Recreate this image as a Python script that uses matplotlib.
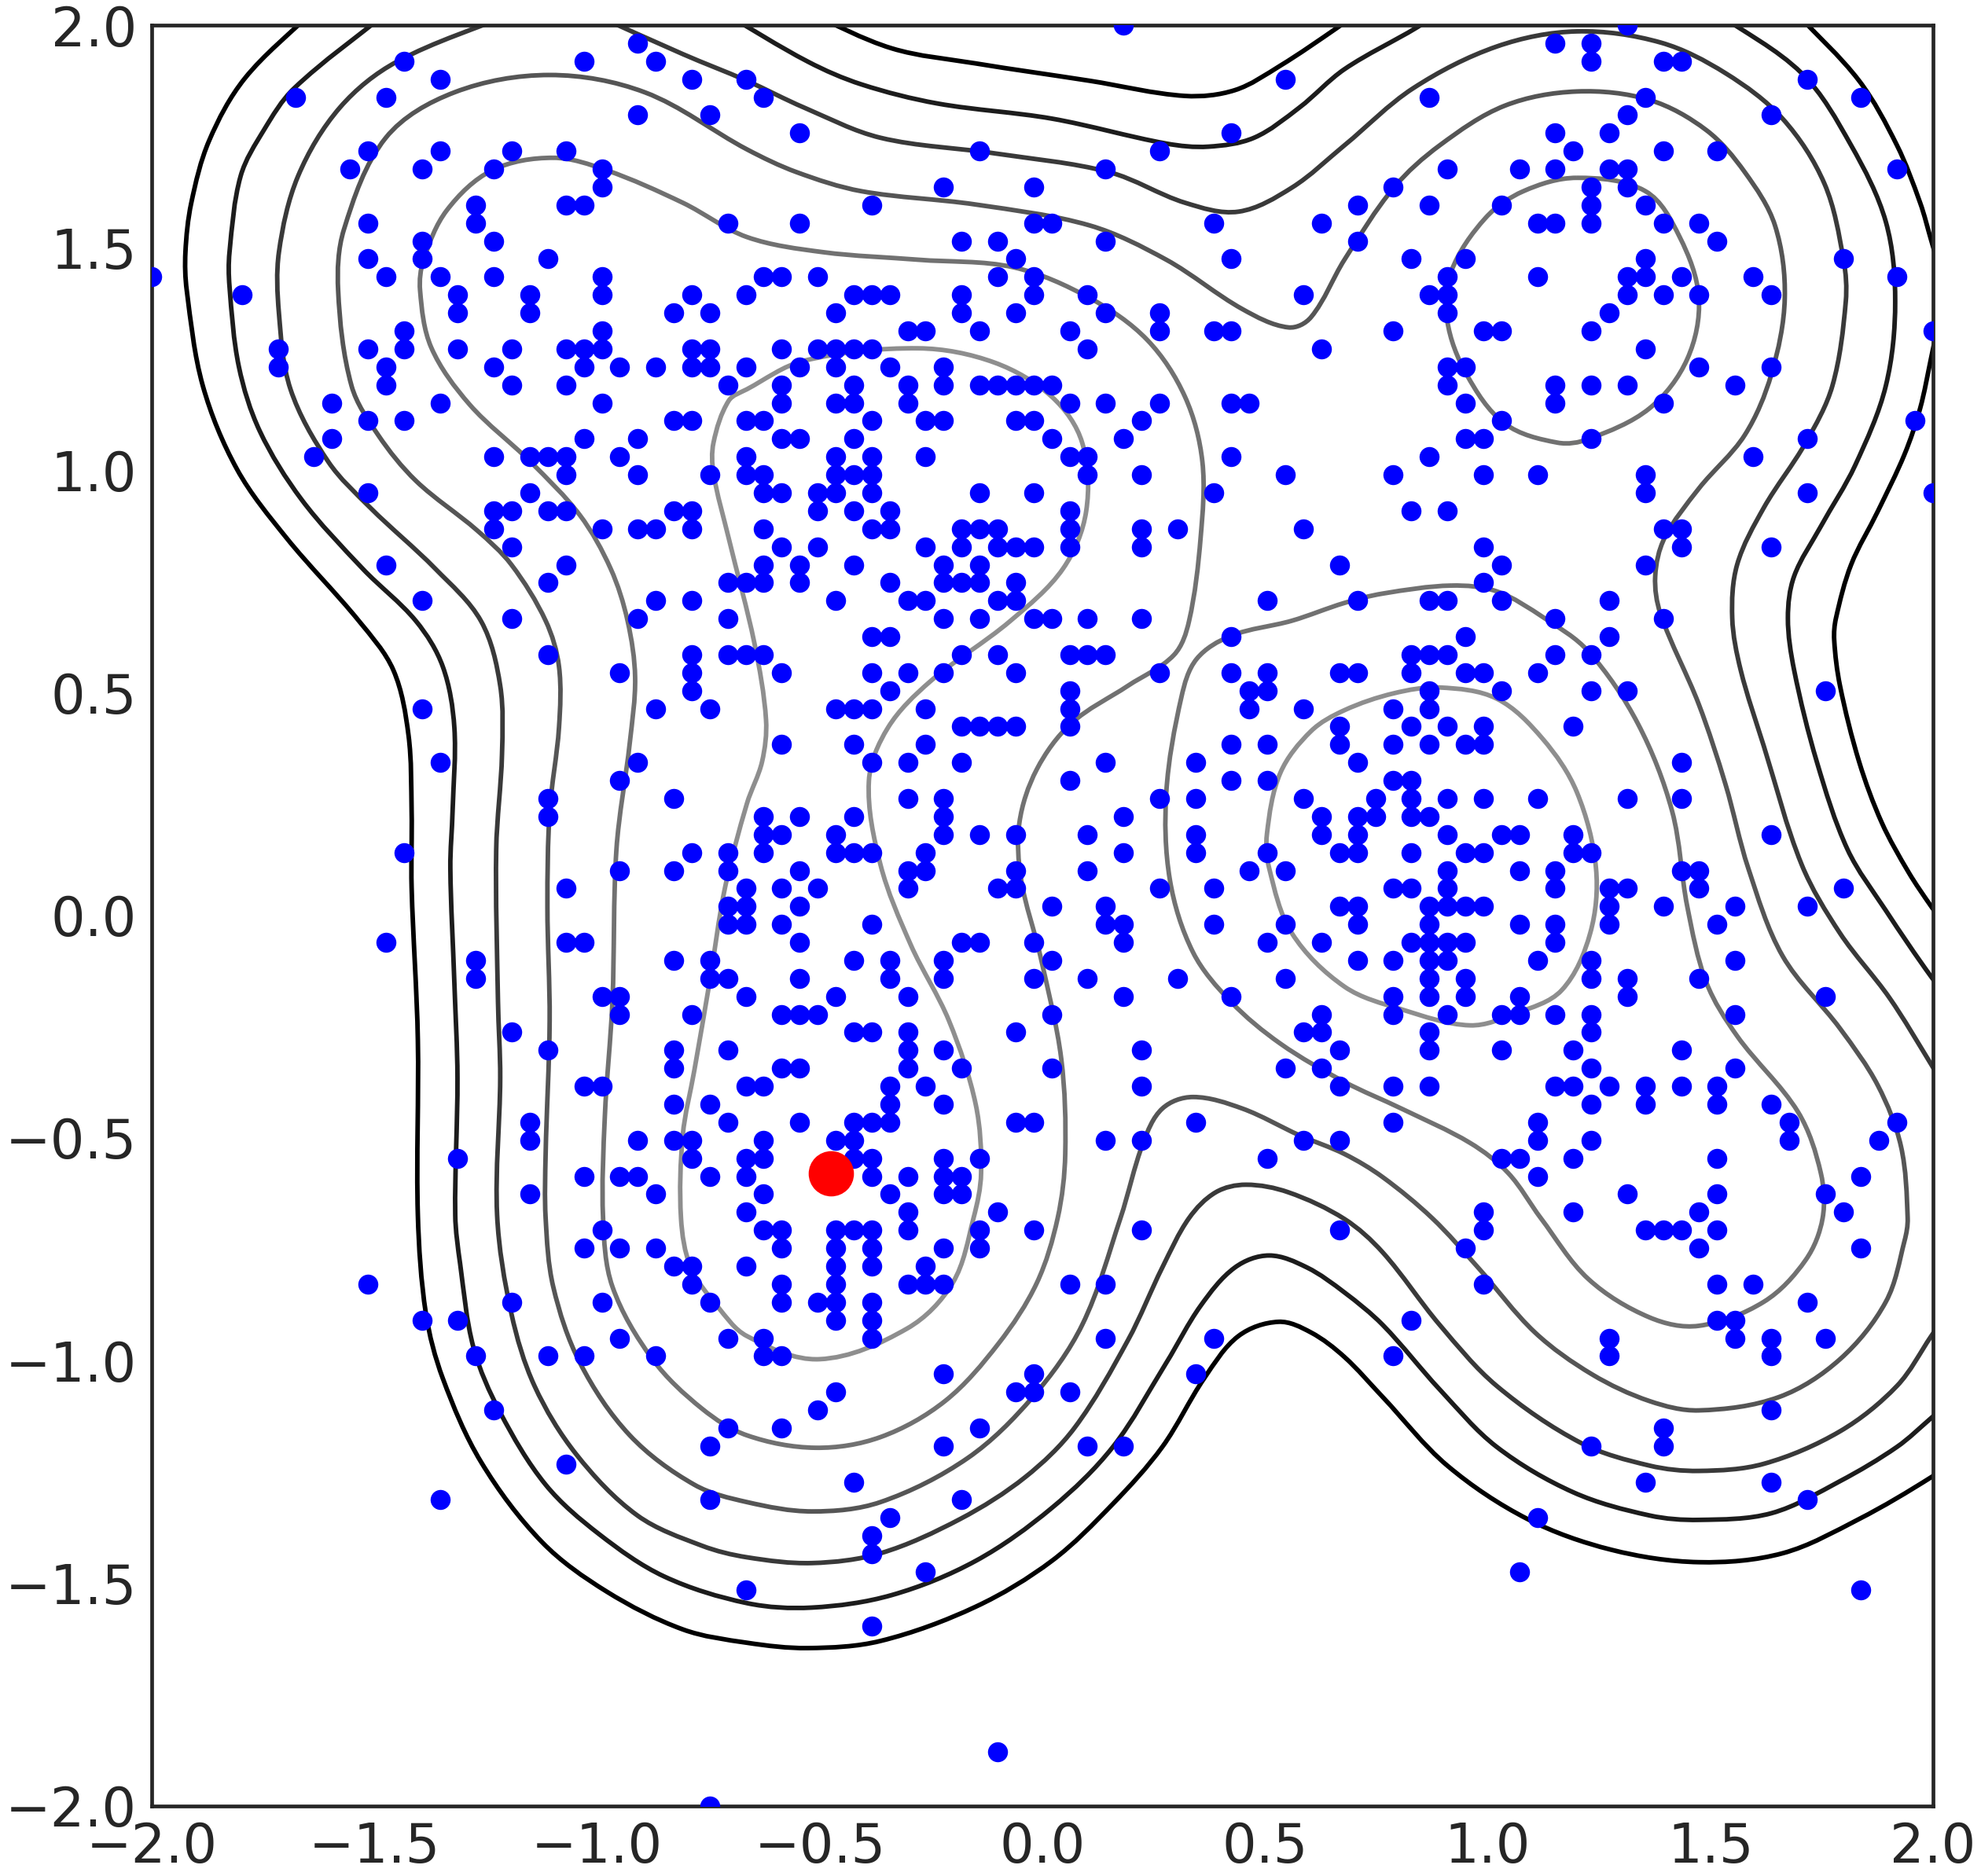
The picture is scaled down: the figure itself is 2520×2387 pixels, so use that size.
import numpy as np
import matplotlib
matplotlib.use("Agg")
import matplotlib.pyplot as plt
from matplotlib.path import Path
from matplotlib.patches import PathPatch

# ==========================================
# DATA
# ==========================================

# the samples sit on a 100 x 100 lattice, so they are stored as lattice cells
lattice = np.linspace(-2, 2, 100)

# row number from the top -> columns holding a blue point
blue_cells = {
    0: [54, 82],
    1: [27, 78, 80],
    2: [14, 24, 28, 80, 84, 85],
    3: [16, 30, 33, 63, 92],
    4: [8, 13, 34, 71, 83, 95],
    5: [27, 31, 82, 90],
    6: [36, 60, 78, 81],
    7: [12, 16, 20, 23, 46, 56, 79, 84, 87],
    8: [11, 15, 19, 25, 53, 72, 76, 78, 81, 82, 97],
    9: [25, 44, 49, 69, 80, 82],
    10: [18, 23, 24, 40, 67, 71, 75, 80, 83],
    11: [12, 18, 32, 36, 49, 50, 59, 65, 77, 78, 80, 84, 86],
    12: [15, 19, 45, 47, 53, 67, 87],
    13: [12, 15, 22, 48, 60, 70, 73, 83, 94],
    14: [0, 13, 16, 19, 25, 34, 35, 37, 47, 49, 72, 77, 82, 83, 85, 89, 97],
    15: [5, 17, 21, 25, 30, 33, 39, 40, 41, 45, 49, 52, 64, 71, 72, 82, 84, 86, 90],
    16: [17, 21, 29, 31, 38, 45, 48, 53, 56, 72, 81],
    17: [14, 25, 42, 43, 46, 51, 56, 59, 60, 69, 74, 75, 80, 99],
    18: [7, 12, 14, 17, 20, 23, 24, 25, 30, 31, 35, 37, 38, 39, 40, 52, 65, 83],
    19: [7, 13, 19, 24, 26, 28, 30, 31, 33, 36, 38, 41, 44, 72, 73, 86, 90],
    20: [13, 20, 23, 32, 35, 39, 42, 44, 46, 47, 48, 49, 50, 72, 78, 80, 82, 88],
    21: [10, 16, 25, 35, 38, 39, 42, 51, 53, 56, 60, 61, 73, 78, 84],
    22: [12, 14, 29, 30, 33, 34, 40, 43, 44, 48, 49, 55, 75, 98],
    23: [10, 24, 27, 35, 36, 39, 50, 54, 73, 74, 80, 92],
    24: [9, 19, 21, 22, 23, 26, 33, 38, 40, 43, 51, 52, 60, 71, 89],
    25: [23, 27, 31, 33, 34, 38, 39, 40, 52, 55, 63, 69, 74, 77, 83],
    26: [12, 21, 34, 35, 37, 38, 40, 46, 49, 59, 83, 92, 99],
    27: [19, 20, 22, 23, 29, 30, 37, 39, 41, 51, 70, 72],
    28: [19, 25, 27, 28, 30, 34, 40, 41, 45, 46, 47, 51, 55, 57, 64, 84, 85],
    29: [20, 35, 37, 43, 45, 47, 48, 49, 51, 55, 74, 85, 90],
    30: [13, 23, 34, 36, 39, 44, 46, 66, 75, 83],
    31: [22, 32, 33, 34, 36, 41, 44, 45, 46, 48, 74],
    32: [15, 28, 30, 38, 42, 43, 47, 48, 62, 67, 71, 72, 75, 81],
    33: [20, 27, 32, 44, 46, 49, 50, 52, 55, 78, 84],
    34: [40, 41, 60, 73, 81],
    35: [22, 30, 32, 33, 34, 45, 47, 51, 52, 53, 70, 71, 72, 78, 80],
    36: [26, 30, 35, 40, 42, 44, 48, 56, 60, 62, 66, 67, 70, 73, 74, 77],
    37: [30, 41, 51, 61, 62, 71, 75, 80, 82, 93],
    38: [15, 28, 31, 38, 39, 40, 43, 51, 61, 64, 69, 71],
    39: [45, 46, 47, 48, 51, 66, 70, 72, 74, 79],
    40: [35, 39, 43, 60, 62, 66, 69, 71, 73, 74],
    41: [16, 27, 40, 42, 45, 53, 58, 67, 85],
    42: [26, 51, 60, 62, 69, 70],
    43: [22, 29, 42, 44, 56, 58, 64, 68, 70, 72, 74, 77, 82, 85],
    44: [22, 34, 36, 39, 44, 54, 65, 67, 68, 70, 71],
    45: [34, 35, 38, 44, 46, 48, 52, 58, 65, 67, 72, 75, 76, 79, 90],
    46: [14, 30, 32, 34, 38, 39, 40, 43, 54, 58, 62, 66, 67, 70, 73, 74, 79, 80],
    47: [26, 29, 32, 36, 42, 43, 48, 52, 61, 63, 72, 76, 78, 85, 86],
    48: [23, 33, 35, 37, 42, 47, 48, 56, 59, 69, 70, 72, 78, 81, 82, 86, 94],
    49: [32, 33, 36, 50, 53, 66, 67, 71, 72, 73, 74, 81, 84, 88, 92],
    50: [32, 33, 35, 40, 53, 54, 59, 63, 67, 71, 76, 78, 81, 87],
    51: [13, 23, 24, 36, 45, 46, 49, 54, 62, 65, 70, 71, 72, 73, 78],
    52: [18, 29, 31, 39, 41, 44, 50, 67, 69, 71, 72, 77, 80, 88],
    53: [18, 31, 32, 36, 41, 44, 49, 52, 57, 63, 71, 73, 80, 82, 86],
    54: [25, 26, 33, 38, 42, 54, 60, 69, 71, 73, 76, 82, 93],
    55: [26, 30, 35, 36, 37, 50, 65, 69, 72, 75, 76, 78, 80, 88],
    56: [20, 39, 40, 42, 48, 64, 65, 71, 80],
    57: [22, 29, 32, 42, 44, 55, 66, 71, 75, 79, 85],
    58: [29, 35, 36, 42, 45, 50, 63, 65, 80, 88],
    59: [24, 25, 33, 34, 41, 43, 55, 66, 69, 71, 78, 79, 81, 83, 85, 87],
    60: [29, 31, 41, 44, 80, 83, 87, 90],
    61: [21, 32, 36, 39, 40, 41, 48, 49, 58, 69, 77, 91, 97],
    62: [21, 27, 29, 30, 34, 38, 39, 53, 55, 64, 66, 77, 80, 91, 96],
    63: [17, 30, 33, 34, 39, 40, 44, 46, 62, 75, 76, 79, 87],
    64: [24, 26, 27, 31, 33, 40, 42, 44, 45, 77, 95],
    65: [21, 28, 34, 41, 44, 45, 82, 87, 93],
    66: [33, 42, 47, 74, 79, 86, 94],
    67: [25, 34, 35, 38, 39, 40, 42, 46, 49, 55, 66, 74, 83, 84, 85, 87],
    68: [24, 26, 28, 35, 38, 40, 44, 46, 73, 86, 95],
    69: [29, 30, 33, 38, 40, 43],
    70: [12, 30, 35, 38, 42, 43, 44, 51, 53, 74, 87, 89],
    71: [20, 25, 31, 35, 37, 38, 40, 92],
    72: [15, 17, 38, 40, 70, 87, 88],
    73: [26, 32, 34, 40, 53, 59, 81, 88, 90, 93],
    74: [18, 22, 24, 28, 34, 35, 69, 81, 90],
    75: [44, 49, 58],
    76: [38, 48, 49, 51],
    77: [19, 37, 90],
    78: [32, 35, 46, 84],
    79: [31, 44, 52, 54, 80, 84],
    80: [23],
    81: [39, 83, 90],
    82: [16, 31, 45, 92],
    83: [41, 77],
    84: [40],
    85: [40],
    86: [43, 76],
    87: [33, 95],
    89: [40],
    96: [47],
    99: [31],
}

red_x = [-0.476]
red_y = [-0.580]

tick_values = [-2.0, -1.5, -1.0, -0.5, 0.0, 0.5, 1.0, 1.5, 2.0]

# contour lines, traced vertex by vertex. Closed ones are marked below.
black_main = [(-1.64, 2.03), (-1.792, 1.880), (-1.872, 1.740), (-1.912, 1.600), (-1.925, 1.490), (-1.922, 1.404), (-1.886, 1.190),
              (-1.809, 1.002), (-1.698, 0.848), (-1.535, 0.661), (-1.458, 0.551), (-1.424, 0.405), (-1.417, 0.234),
              (-1.417, 0.063), (-1.403, -0.280), (-1.403, -0.673), (-1.385, -0.894), (-1.347, -1.040), (-1.261, -1.228),
              (-1.124, -1.408), (-0.979, -1.519), (-0.808, -1.604), (-0.664, -1.634), (-0.527, -1.646), (-0.364, -1.630),
              (-0.150, -1.553), (0.021, -1.450), (0.158, -1.322), (0.269, -1.194), (0.363, -1.040), (0.440, -0.945),
              (0.530, -0.913), (0.603, -0.937), (0.678, -0.992), (0.764, -1.082), (0.909, -1.236), (1.089, -1.356),
              (1.277, -1.425), (1.474, -1.453), (1.662, -1.433), (1.834, -1.356), (1.996, -1.262), (2.05, -1.22)]
black_top = [(-0.53, 2.03), (-0.339, 1.948), (-0.150, 1.914), (0.106, 1.875), (0.320, 1.841), (0.432, 1.854),
             (0.534, 1.909), (0.663, 1.995), (0.71, 2.03)]
black_corner = [(1.69, 2.03), (1.834, 1.875), (1.919, 1.730), (1.971, 1.601), (1.996, 1.516), (2.03, 1.40)]
black_right = [(2.02, 1.37), (1.996, 1.254), (1.971, 1.139), (1.936, 1.036), (1.876, 0.908), (1.816, 0.788),
               (1.782, 0.668), (1.778, 0.619), (1.791, 0.516), (1.834, 0.345), (1.885, 0.208), (1.945, 0.097),
               (1.996, 0.020), (2.04, -0.04)]

dark_main = [(-1.47, 2.03), (-1.681, 1.858), (-1.749, 1.764), (-1.801, 1.661), (-1.826, 1.490), (-1.826, 1.413),
             (-1.805, 1.233), (-1.758, 1.088), (-1.664, 0.934), (-1.527, 0.779), (-1.407, 0.661), (-1.347, 0.559),
             (-1.321, 0.422), (-1.325, 0.234), (-1.330, 0.106), (-1.321, -0.151), (-1.314, -0.365), (-1.319, -0.673),
             (-1.308, -0.783), (-1.278, -0.971), (-1.218, -1.117), (-1.116, -1.279), (-0.996, -1.390), (-0.850, -1.485),
             (-0.664, -1.545), (-0.518, -1.555), (-0.339, -1.527), (-0.150, -1.450), (0.021, -1.331), (0.158, -1.194),
             (0.278, -1.005), (0.355, -0.877), (0.432, -0.791), (0.509, -0.764), (0.594, -0.791), (0.678, -0.847),
             (0.764, -0.920), (0.892, -1.065), (1.020, -1.194), (1.192, -1.296), (1.363, -1.348), (1.474, -1.358),
             (1.637, -1.343), (1.791, -1.271), (1.919, -1.194), (1.996, -1.129), (2.04, -1.09)]
dark_top = [(-0.72, 2.03), (-0.527, 1.918), (-0.407, 1.867), (-0.236, 1.824), (0.021, 1.790), (0.278, 1.734),
            (0.372, 1.727), (0.475, 1.747), (0.577, 1.815), (0.678, 1.901), (0.841, 1.995), (0.89, 2.03)]
dark_right = [(1.51, 2.03), (1.705, 1.892), (1.816, 1.730), (1.894, 1.558), (1.915, 1.379), (1.894, 1.190),
              (1.825, 1.011), (1.748, 0.874), (1.688, 0.762), (1.674, 0.668), (1.688, 0.551), (1.739, 0.345),
              (1.808, 0.148), (1.894, 0.011), (1.996, -0.138), (2.04, -0.19)]

mid_main = [(-1.18, 2.03), (-1.450, 1.918), (-1.578, 1.815), (-1.672, 1.661), (-1.715, 1.490), (-1.715, 1.353),
            (-1.689, 1.182), (-1.604, 1.019), (-1.510, 0.916), (-1.364, 0.779), (-1.261, 0.661), (-1.218, 0.516),
            (-1.214, 0.362), (-1.227, 0.148), (-1.223, -0.194), (-1.218, -0.365), (-1.225, -0.673), (-1.193, -0.894),
            (-1.141, -1.057), (-1.047, -1.211), (-0.910, -1.348), (-0.765, -1.416), (-0.664, -1.442), (-0.518, -1.455),
            (-0.364, -1.433), (-0.185, -1.356), (-0.039, -1.262), (0.072, -1.151), (0.192, -0.954), (0.269, -0.791),
            (0.329, -0.680), (0.389, -0.622), (0.457, -0.605), (0.552, -0.622), (0.678, -0.682), (0.764, -0.757),
            (0.892, -0.920), (1.020, -1.057), (1.209, -1.185), (1.363, -1.236), (1.474, -1.248), (1.620, -1.232),
            (1.791, -1.159), (1.919, -1.057), (1.996, -0.945), (2.04, -0.88)]
mid_upper = [(-1.02, 2.03), (-0.808, 1.935), (-0.664, 1.875), (-0.536, 1.815), (-0.364, 1.747), (-0.108, 1.712),
             (0.149, 1.670), (0.320, 1.601), (0.440, 1.581), (0.560, 1.635), (0.678, 1.730), (0.832, 1.858),
             (1.020, 1.952), (1.200, 1.986), (1.388, 1.961), (1.534, 1.892), (1.662, 1.790), (1.756, 1.644),
             (1.799, 1.473), (1.804, 1.379), (1.774, 1.190), (1.714, 1.062), (1.620, 0.916), (1.560, 0.788),
             (1.549, 0.668), (1.568, 0.551), (1.620, 0.380), (1.705, 0.114), (1.791, -0.040), (1.902, -0.185),
             (1.996, -0.335), (2.04, -0.41)]

ring_outer = [(-1.107, 1.888), (-0.893, 1.849), (-0.664, 1.721), (-0.553, 1.670), (-0.407, 1.627), (-0.150, 1.597),
              (0.106, 1.550), (0.278, 1.473), (0.449, 1.362), (0.552, 1.321), (0.603, 1.344), (0.678, 1.473),
              (0.789, 1.635), (0.892, 1.730), (1.038, 1.819), (1.200, 1.851), (1.363, 1.832), (1.491, 1.764),
              (1.577, 1.670), (1.645, 1.550), (1.667, 1.387), (1.637, 1.216), (1.577, 1.079), (1.474, 0.959),
              (1.397, 0.848), (1.376, 0.762), (1.388, 0.677), (1.474, 0.474), (1.534, 0.294), (1.585, 0.106),
              (1.662, -0.091), (1.791, -0.254), (1.876, -0.382), (1.928, -0.519), (1.943, -0.680), (1.936, -0.731),
              (1.894, -0.868), (1.791, -0.997), (1.654, -1.082), (1.474, -1.112), (1.363, -1.091), (1.234, -1.031),
              (1.106, -0.937), (0.978, -0.791), (0.875, -0.680), (0.764, -0.588), (0.678, -0.536), (0.577, -0.494),
              (0.449, -0.434), (0.338, -0.408), (0.269, -0.434), (0.226, -0.511), (0.175, -0.680), (0.089, -0.920),
              (-0.022, -1.082), (-0.168, -1.219), (-0.364, -1.318), (-0.518, -1.339), (-0.664, -1.318), (-0.782, -1.279),
              (-0.927, -1.168), (-1.039, -1.005), (-1.099, -0.834), (-1.116, -0.680), (-1.116, -0.536), (-1.107, -0.237),
              (-1.112, 0.020), (-1.107, 0.234), (-1.086, 0.422), (-1.086, 0.559), (-1.116, 0.662), (-1.193, 0.788),
              (-1.270, 0.865), (-1.407, 0.976), (-1.492, 1.079), (-1.552, 1.190), (-1.582, 1.404), (-1.569, 1.541),
              (-1.475, 1.747), (-1.321, 1.849)]

blob_left = [(-1.099, 1.702), (-0.979, 1.674), (-0.808, 1.601), (-0.664, 1.524), (-0.493, 1.490), (-0.279, 1.473),
             (-0.065, 1.456), (0.106, 1.387), (0.235, 1.293), (0.320, 1.165), (0.359, 1.019), (0.355, 0.848),
             (0.329, 0.661), (0.295, 0.585), (0.192, 0.516), (0.064, 0.431), (-0.013, 0.328), (-0.052, 0.208),
             (-0.048, 0.080), (-0.005, -0.091), (0.042, -0.322), (0.051, -0.536), (0.034, -0.680), (-0.013, -0.826),
             (-0.099, -0.962), (-0.219, -1.091), (-0.364, -1.172), (-0.510, -1.196), (-0.664, -1.168), (-0.765, -1.108),
             (-0.876, -0.997), (-0.966, -0.834), (-0.987, -0.680), (-0.983, -0.451), (-0.966, -0.194), (-0.957, 0.148),
             (-0.927, 0.388), (-0.915, 0.534), (-0.932, 0.662), (-0.970, 0.779), (-1.039, 0.899), (-1.150, 1.019),
             (-1.287, 1.148), (-1.373, 1.276), (-1.398, 1.404), (-1.390, 1.473), (-1.338, 1.584), (-1.236, 1.674)]
blob_right = [(0.918, 0.741), (1.020, 0.728), (1.127, 0.668), (1.226, 0.593), (1.337, 0.431), (1.414, 0.234),
              (1.448, 0.020), (1.491, -0.151), (1.560, -0.271), (1.697, -0.442), (1.748, -0.579), (1.752, -0.680),
              (1.714, -0.774), (1.620, -0.868), (1.474, -0.922), (1.363, -0.903), (1.226, -0.817), (1.119, -0.680),
              (1.046, -0.579), (0.960, -0.511), (0.806, -0.434), (0.678, -0.374), (0.534, -0.288), (0.423, -0.194),
              (0.338, -0.083), (0.286, 0.080), (0.278, 0.277), (0.312, 0.491), (0.346, 0.576), (0.423, 0.628),
              (0.560, 0.662), (0.678, 0.702), (0.764, 0.723)]
blob_top = [(1.200, 1.657), (1.354, 1.627), (1.431, 1.524), (1.474, 1.387), (1.448, 1.250), (1.363, 1.139),
            (1.226, 1.070), (1.157, 1.062), (1.038, 1.105), (0.952, 1.216), (0.909, 1.336), (0.918, 1.447),
            (0.995, 1.567), (1.080, 1.627)]

core_left = [(-0.536, 1.246), (-0.279, 1.274), (-0.108, 1.242), (0.021, 1.165), (0.089, 1.062), (0.098, 0.908),
             (0.046, 0.779), (-0.073, 0.661), (-0.253, 0.525), (-0.347, 0.422), (-0.390, 0.302), (-0.364, 0.114),
             (-0.296, -0.066), (-0.210, -0.237), (-0.150, -0.425), (-0.138, -0.579), (-0.155, -0.680), (-0.202, -0.826),
             (-0.304, -0.928), (-0.501, -0.997), (-0.664, -0.945), (-0.731, -0.877), (-0.790, -0.791), (-0.812, -0.680),
             (-0.808, -0.494), (-0.782, -0.348), (-0.748, -0.151), (-0.713, 0.063), (-0.664, 0.251), (-0.630, 0.345),
             (-0.621, 0.439), (-0.647, 0.611), (-0.705, 0.848), (-0.739, 0.993), (-0.739, 1.062), (-0.705, 1.156),
             (-0.664, 1.182)]
core_right = [(0.789, 0.499), (0.892, 0.512), (1.020, 0.487), (1.123, 0.397), (1.200, 0.277), (1.243, 0.106),
              (1.230, -0.040), (1.166, -0.168), (1.063, -0.220), (0.960, -0.247), (0.806, -0.211), (0.678, -0.160),
              (0.560, -0.040), (0.509, 0.106), (0.504, 0.183), (0.534, 0.320), (0.603, 0.414), (0.678, 0.461)]

# ==========================================
# HELPERS
# ==========================================

def smooth_path(verts, closed=False):
    # cubic pieces through the traced vertices, handles follow the neighbours
    v = np.array(verts)
    if closed:
        v = np.vstack([v, v[:1]])
        before = np.vstack([v[-2:-1], v[:-1]])
        after = np.vstack([v[1:], v[1:2]])
    else:
        before = np.vstack([v[:1], v[:-1]])
        after = np.vstack([v[1:], v[-1:]])
    tang = after - before
    tang = tang / np.linalg.norm(tang, axis=1, keepdims=True)

    pts = [v[0]]
    codes = [Path.MOVETO]
    for i in range(len(v) - 1):
        handle = np.linalg.norm(v[i + 1] - v[i]) / 3
        pts += [v[i] + tang[i] * handle, v[i + 1] - tang[i + 1] * handle, v[i + 1]]
        codes += [Path.CURVE4, Path.CURVE4, Path.CURVE4]
    return Path(np.array(pts), codes)

def draw_line(ax, verts, color, closed=False):
    ax.add_patch(PathPatch(smooth_path(verts, closed), fill=False, edgecolor=color,
                           linewidth=2.1, zorder=2))

# ==========================================
# PLOT
# ==========================================

W, H = 2520, 2387
fig = plt.figure(figsize=(W / 200, H / 200), dpi=200, facecolor="white")
ax = fig.add_axes([193.4 / W, 1 - 2297.5 / H, (2459 - 193.4) / W, (2297.5 - 32) / H])

for line in [black_main, black_top, black_corner, black_right]:
    draw_line(ax, line, "#000000")
for line in [dark_main, dark_top, dark_right]:
    draw_line(ax, line, "#1c1c1c")
for line in [mid_main, mid_upper]:
    draw_line(ax, line, "#393939")
draw_line(ax, ring_outer, "#555555", closed=True)
for line in [blob_left, blob_right, blob_top]:
    draw_line(ax, line, "#717171", closed=True)
for line in [core_left, core_right]:
    draw_line(ax, line, "#8e8e8e", closed=True)

xs, ys = [], []
for row, cols in blue_cells.items():
    for col in cols:
        xs.append(lattice[col])
        ys.append(lattice[99 - row])

ax.scatter(xs, ys, s=84, color="#0000ff", linewidths=0, zorder=3)
ax.scatter(red_x, red_y, s=430, color="#ff0000", linewidths=0, zorder=4)

ax.set_xlim(-2, 2)
ax.set_ylim(-2, 2)
ax.set_xticks(tick_values)
ax.set_yticks(tick_values)
ax.tick_params(length=0, labelsize=24.8, labelcolor="#262626", pad=7)
for side in ax.spines.values():
    side.set_color("#262626")
    side.set_linewidth(1.7)

fig.savefig("out.png", dpi=200, facecolor="white")
